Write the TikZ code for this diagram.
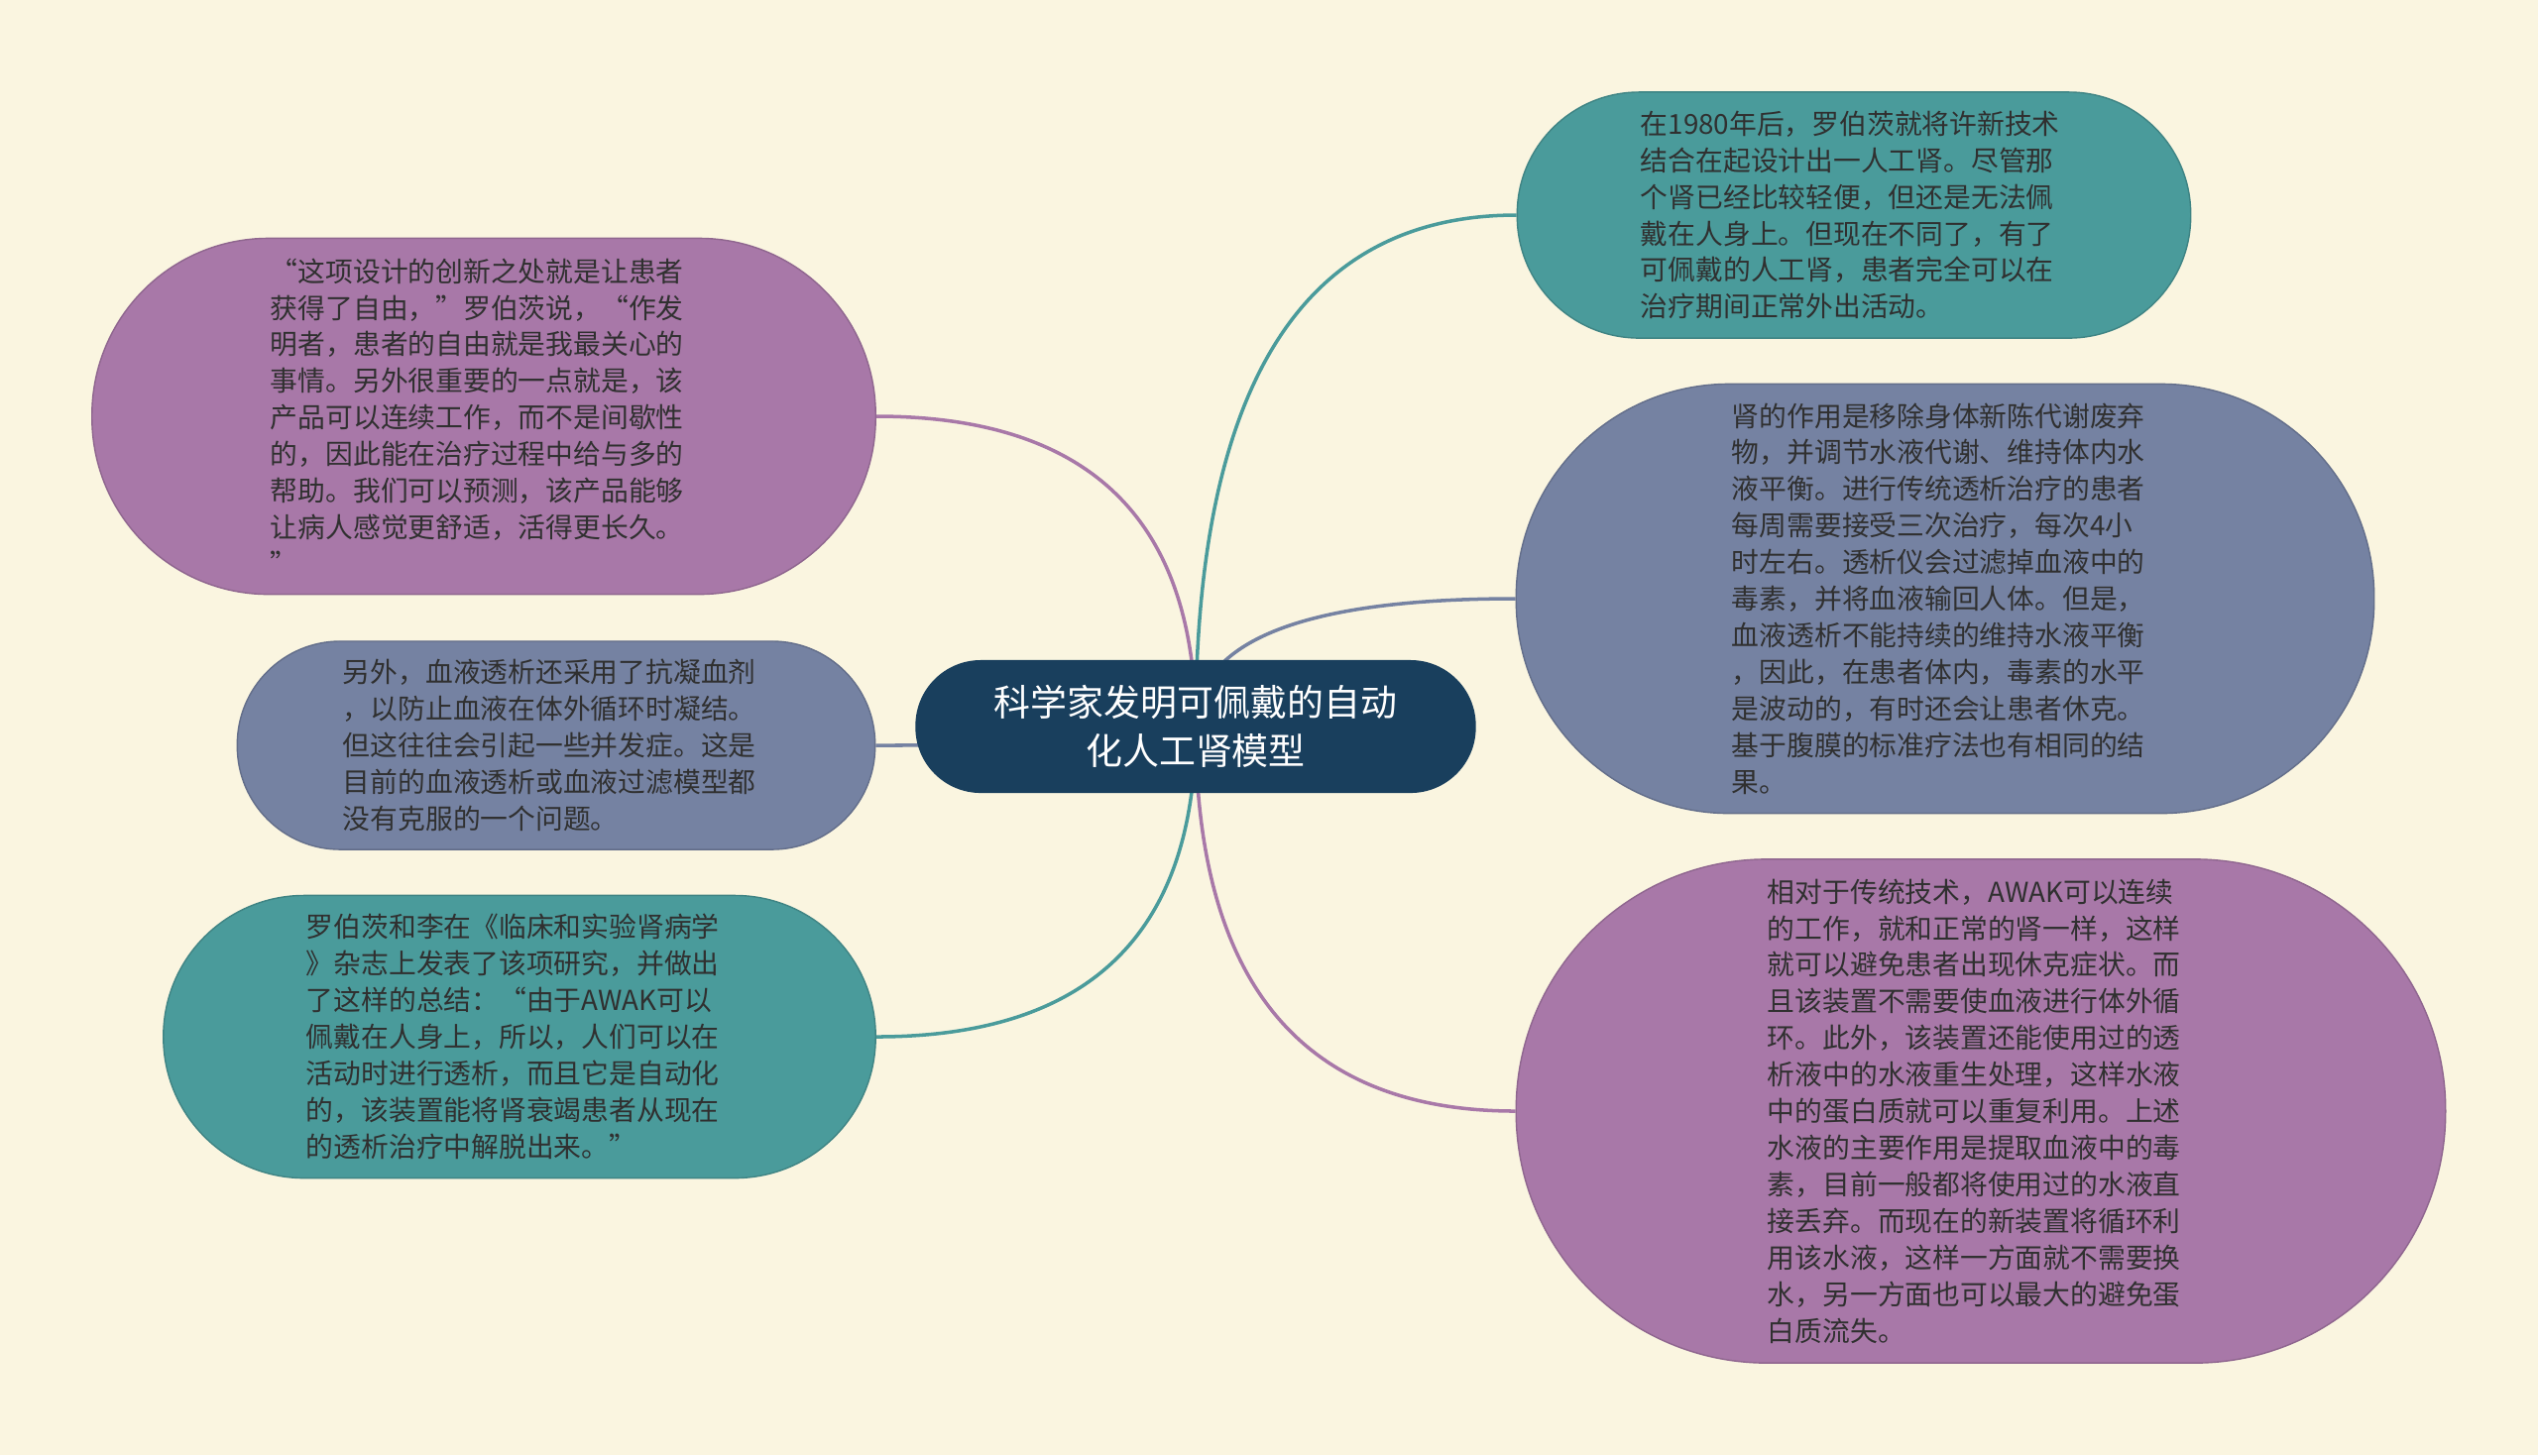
\documentclass[tikz,border=0pt]{standalone}
\usepackage{fontspec}
\setmainfont{Noto Sans CJK SC}
\usetikzlibrary{calc, backgrounds}
\usepackage{xcolor}
\definecolor{bgcream}{HTML}{FAF5E0}
\definecolor{leafpurple}{HTML}{A878A8}
\definecolor{leafteal}{HTML}{4A9B9B}
\definecolor{leafslate}{HTML}{7582A2}
\definecolor{rootnavy}{HTML}{193F5D}
\definecolor{leafink}{HTML}{303030}

\begin{document}
\begin{tikzpicture}[x=0.01cm, y=-0.01cm,
	leaf/.style={rectangle, inner sep=0pt, text width=4.3cm, align=left, text=leafink, fill=#1, draw=#1!85!black, line width=0.4pt, font=\myfontleaf},
	root/.style={rectangle, inner sep=0pt, align=center, text=white, fill=rootnavy, font=\myfontroot},
	branch/.style={draw=#1, line width=1pt}]
				\newcommand{\myfontleaf}{\fontsize{7.9}{10.5}\selectfont}
				\newcommand{\myfontroot}{\fontsize{10.5}{13.9}\selectfont}
				\useasboundingbox (0,0) rectangle (2560,1468);
				%Central topic
				\node [root, minimum width=5.65cm, minimum height=1.34cm, rounded corners=0.66cm] (root) at (1206,733) {科学家发明可佩戴的自动\\化人工肾模型};
				%Left branches
				\node [leaf=leafpurple, minimum width=7.9cm, minimum height=3.59cm, rounded corners=1.78cm] (left0) at (488,420) {“这项设计的创新之处就是让患者\\获得了自由，”罗伯茨说，“作发\\明者，患者的自由就是我最关心的\\事情。另外很重要的一点就是，该\\产品可以连续工作，而不是间歇性\\的，因此能在治疗过程中给与多的\\帮助。我们可以预测，该产品能够\\让病人感觉更舒适，活得更长久。\\”};
				\node [leaf=leafslate, minimum width=6.43cm, minimum height=2.1cm, rounded corners=1.04cm] (left1) at (561,752) {另外，血液透析还采用了抗凝血剂\\，以防止血液在体外循环时凝结。\\但这往往会引起一些并发症。这是\\目前的血液透析或血液过滤模型都\\没有克服的一个问题。};
				\node [leaf=leafteal, minimum width=7.18cm, minimum height=2.85cm, rounded corners=1.42cm] (left2) at (524,1046) {罗伯茨和李在《临床和实验肾病学\\》杂志上发表了该项研究，并做出\\了这样的总结：“由于AWAK可以\\佩戴在人身上，所以，人们可以在\\活动时进行透析，而且它是自动化\\的，该装置能将肾衰竭患者从现在\\的透析治疗中解脱出来。”};
				%Right branches
				\node [leaf=leafteal, minimum width=6.79cm, minimum height=2.48cm, rounded corners=1.23cm] (right0) at (1870,217) {在1980年后，罗伯茨就将许新技术\\结合在起设计出一人工肾。尽管那\\个肾已经比较轻便，但还是无法佩\\戴在人身上。但现在不同了，有了\\可佩戴的人工肾，患者完全可以在\\治疗期间正常外出活动。};
				\node [leaf=leafslate, minimum width=8.65cm, minimum height=4.33cm, rounded corners=2.15cm] (right1) at (1962,604) {肾的作用是移除身体新陈代谢废弃\\物，并调节水液代谢、维持体内水\\液平衡。进行传统透析治疗的患者\\每周需要接受三次治疗，每次4小\\时左右。透析仪会过滤掉血液中的\\毒素，并将血液输回人体。但是，\\血液透析不能持续的维持水液平衡\\，因此，在患者体内，毒素的水平\\是波动的，有时还会让患者休克。\\基于腹膜的标准疗法也有相同的结\\果。};
				\node [leaf=leafpurple, minimum width=9.37cm, minimum height=5.08cm, rounded corners=2.53cm] (right2) at (1998,1121) {相对于传统技术，AWAK可以连续\\的工作，就和正常的肾一样，这样\\就可以避免患者出现休克症状。而\\且该装置不需要使血液进行体外循\\环。此外，该装置还能使用过的透\\析液中的水液重生处理，这样水液\\中的蛋白质就可以重复利用。上述\\水液的主要作用是提取血液中的毒\\素，目前一般都将使用过的水液直\\接丢弃。而现在的新装置将循环利\\用该水液，这样一方面就不需要换\\水，另一方面也可以最大的避免蛋\\白质流失。};
				%Background and connectors behind the nodes
				\begin{scope}[on background layer]
					\fill [bgcream] (0,0) rectangle (2560,1468);
					\foreach \leaf/\col/\side in {left0/leafpurple/east, left1/leafslate/east, left2/leafteal/east, right0/leafteal/west, right1/leafslate/west, right2/leafpurple/west} {
						\draw [branch=\col] (root.center) .. controls ($(root.center)!0.667!(root.center |- \leaf.\side)$) and ($(\leaf.\side)!0.667!(root.center |- \leaf.\side)$) .. (\leaf.\side);
					}
				\end{scope}
\end{tikzpicture}
\end{document}
